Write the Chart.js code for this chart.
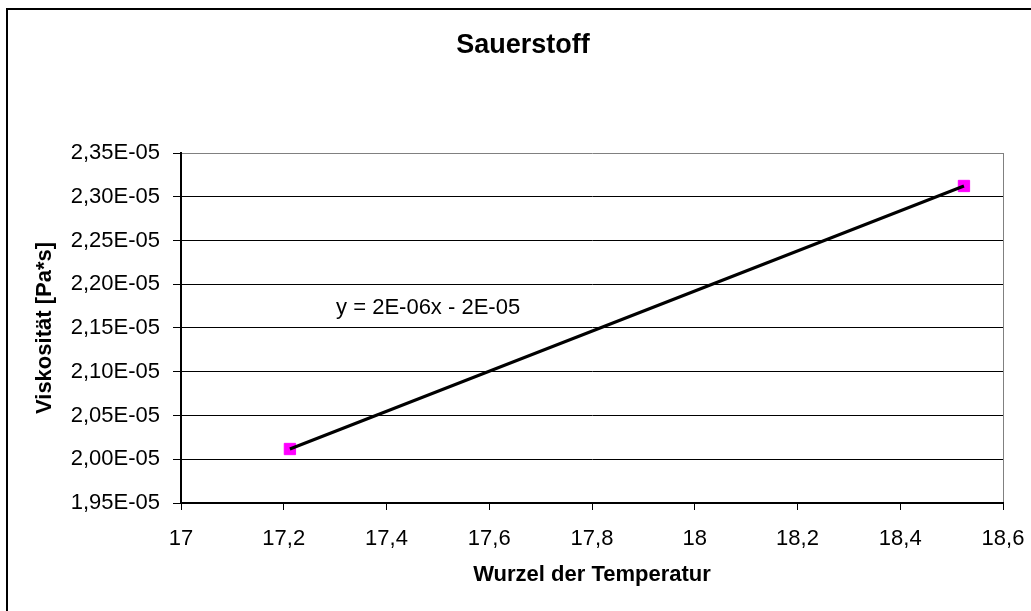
<!DOCTYPE html>
<html>
<head>
<meta charset="utf-8">
<script src="https://cdn.jsdelivr.net/npm/chart.js@4/dist/chart.umd.min.js"></script>
<style>
  html, body { margin: 0; padding: 0; background: #fff; }
  #wrap { width: 1031px; height: 611px; position: relative; }
</style>
</head>
<body>
<div id="wrap"><canvas id="chart"></canvas></div>
<script>
// Sauerstoff: Viskosität gegen Wurzel der Temperatur
const sqrtTemp = [17.212, 18.524];
const viscosity = [2.0117e-5, 2.3123e-5];

const xTicks = [17, 17.2, 17.4, 17.6, 17.8, 18, 18.2, 18.4, 18.6];
const yTicks = [1.95e-5, 2.0e-5, 2.05e-5, 2.1e-5, 2.15e-5, 2.2e-5, 2.25e-5, 2.3e-5, 2.35e-5];

const chartTitle = 'Sauerstoff';
const trendLabel = 'y = 2E-06x - 2E-05';
const trendLabelAt = { x: 17.481, y: 2.173e-5 };

const FONT = "'Liberation Sans', Arial, sans-serif";

const points = sqrtTemp.map((x, i) => ({ x, y: viscosity[i] }));

const formatX = (v) => String(Math.round(v * 10) / 10).replace('.', ',');
const formatY = (v) => (v / 1e-5).toFixed(2).replace('.', ',') + 'E-05';

const frameAndLabel = {
    id: 'frameAndLabel',
    afterDraw(chart) {
        const { ctx, scales } = chart;
        ctx.save();
        // outer chart border (only left and top are inside the picture)
        ctx.strokeStyle = '#000';
        ctx.lineWidth = 2;
        ctx.beginPath();
        ctx.moveTo(7, chart.height + 2);
        ctx.lineTo(7, 9);
        ctx.lineTo(chart.width + 2, 9);
        ctx.stroke();

        ctx.fillStyle = '#000';
        ctx.textAlign = 'center';
        ctx.textBaseline = 'middle';

        // chart title (centred on the whole chart object, not the plot)
        ctx.font = 'bold 27px ' + FONT;
        ctx.fillText(chartTitle, 523, 46);

        // trendline equation
        ctx.font = '22px ' + FONT;
        ctx.fillText(trendLabel,
            scales.x.getPixelForValue(trendLabelAt.x),
            scales.y.getPixelForValue(trendLabelAt.y));
        ctx.restore();
    }
};

new Chart(document.getElementById('chart'), {
    type: 'scatter',
    data: {
        datasets: [{
            label: 'Trend',
            data: points,
            showLine: true,
            borderColor: '#000',
            borderWidth: 3,
            pointRadius: 0,
            fill: false
        }, {
            label: 'Sauerstoff',
            data: points,
            pointStyle: 'rect',
            pointRadius: 8,
            pointBorderWidth: 1,
            pointBackgroundColor: '#FF00FF',
            pointBorderColor: '#FF00FF',
            showLine: false
        }]
    },
    options: {
        responsive: true,
        maintainAspectRatio: false,
        animation: false,
        layout: { padding: { left: 0, right: 28, top: 153, bottom: 0 } },
        plugins: {
            legend: { display: false },
            tooltip: { enabled: false },
            title: { display: false }
        },
        scales: {
            x: {
                type: 'linear',
                min: 17,
                max: 18.6,
                afterBuildTicks: (scale) => { scale.ticks = xTicks.map((v) => ({ value: v })); },
                afterFit: (scale) => {
                    scale.height = 108;
                    scale.paddingLeft = 0;
                    scale.paddingRight = 0;
                },
                border: { color: '#000', width: 2 },
                grid: {
                    drawOnChartArea: true,
                    color: (ctx) => (ctx.index === xTicks.length - 1 ? '#808080' : 'rgba(0,0,0,0)'),
                    tickColor: '#000',
                    tickLength: 7,
                    lineWidth: 1
                },
                ticks: {
                    color: '#000',
                    font: { family: FONT, size: 22 },
                    padding: 16,
                    maxRotation: 0,
                    callback: (v) => formatX(v)
                },
                title: {
                    display: true,
                    text: 'Wurzel der Temperatur',
                    color: '#000',
                    font: { family: FONT, size: 22, weight: 'bold', lineHeight: 1.2 },
                    padding: { top: 0, bottom: 23 }
                }
            },
            y: {
                type: 'linear',
                min: 1.95e-5,
                max: 2.35e-5,
                afterBuildTicks: (scale) => { scale.ticks = yTicks.map((v) => ({ value: v })); },
                afterFit: (scale) => {
                    scale.width = 181;
                    scale.paddingTop = 0;
                    scale.paddingBottom = 0;
                },
                border: { color: '#000', width: 2 },
                grid: {
                    color: (ctx) => (ctx.index === yTicks.length - 1 ? '#808080' : '#000'),
                    tickColor: '#000',
                    tickLength: 8,
                    lineWidth: 1
                },
                ticks: {
                    color: '#000',
                    font: { family: FONT, size: 22 },
                    padding: 13,
                    callback: (v) => formatY(v)
                },
                title: {
                    display: true,
                    text: 'Viskosität [Pa*s]',
                    color: '#000',
                    font: { family: FONT, size: 22, weight: 'bold', lineHeight: 1.2 },
                    padding: { top: 32, bottom: 0 }
                }
            }
        }
    },
    plugins: [frameAndLabel]
});
</script>
</body>
</html>
